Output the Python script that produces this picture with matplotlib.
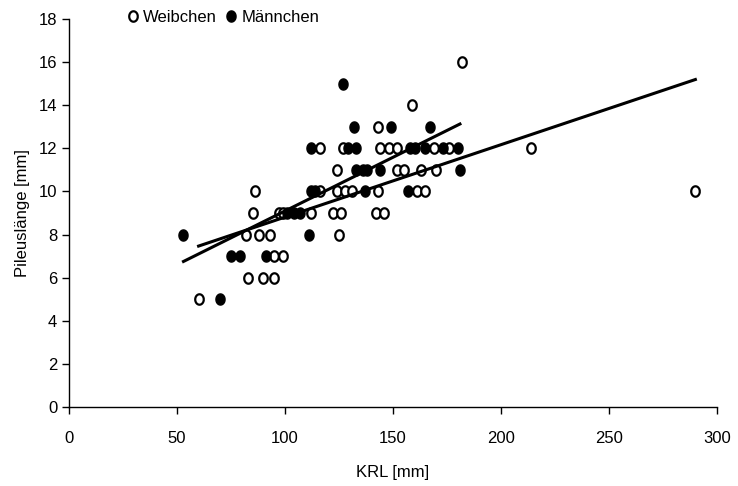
"""Pileuslänge gegen KRL, Weibchen und Männchen mit linearen Trendlinien."""

import matplotlib
import matplotlib.pyplot as plt
import numpy as np

matplotlib.use("Agg")

plt.rcParams["font.family"] = ["Liberation Sans", "DejaVu Sans"]

# Weibchen (offene Kreise)
female_krl = [60, 83, 90, 95, 95, 99, 82, 88, 93, 125,
              85, 97, 99, 112, 122, 126, 142, 146,
              86, 116, 124, 128, 131, 143, 161, 165, 290,
              124, 152, 155, 163, 170,
              116, 127, 144, 148, 152, 169, 176, 214,
              143, 159, 182]
female_pileus = [5, 6, 6, 6, 7, 7, 8, 8, 8, 8,
                 9, 9, 9, 9, 9, 9, 9, 9,
                 10, 10, 10, 10, 10, 10, 10, 10, 10,
                 11, 11, 11, 11, 11,
                 12, 12, 12, 12, 12, 12, 12, 12,
                 13, 14, 16]

# Männchen (gefüllte Kreise)
male_krl = [70, 75, 79, 91, 53, 111, 101, 104, 107,
            112, 114, 137, 157, 133, 136, 138, 144, 181,
            112, 129, 133, 158, 160, 165, 173, 180,
            132, 149, 167, 127]
male_pileus = [5, 7, 7, 7, 8, 8, 9, 9, 9,
               10, 10, 10, 10, 11, 11, 11, 11, 11,
               12, 12, 12, 12, 12, 12, 12, 12,
               13, 13, 13, 15]

x_ticks = [0, 50, 100, 150, 200, 250, 300]
y_ticks = [0, 2, 4, 6, 8, 10, 12, 14, 16, 18]

# leicht hochgestellter Kreis als Marker
t = np.linspace(0, 2 * np.pi, 60)
ellipse = np.column_stack([0.82 * np.cos(t), np.sin(t)])


def trend(x, y):
    x = np.asarray(x, dtype=float)
    slope, icpt = np.polyfit(x, np.asarray(y, dtype=float), 1)
    xs = np.array([x.min(), x.max()])
    return xs, slope * xs + icpt


fig = plt.figure(figsize=(7.38, 4.86), dpi=100)
ax = fig.add_axes([0.0935, 0.1626, 0.878, 0.7984])

ax.plot(female_krl, female_pileus, linestyle="none", marker=ellipse,
        markersize=7.5, markerfacecolor="white", markeredgecolor="black",
        markeredgewidth=1.6, label="Weibchen", zorder=3)
ax.plot(male_krl, male_pileus, linestyle="none", marker=ellipse,
        markersize=8, markerfacecolor="black", markeredgecolor="black",
        markeredgewidth=1, label="Männchen", zorder=3)

fx, fy = trend(female_krl, female_pileus)
mx, my = trend(male_krl, male_pileus)
ax.plot(fx, fy, color="black", lw=2.2, zorder=4)
ax.plot(mx, my, color="black", lw=2.2, zorder=4)

ax.set_xlim(0, 300)
ax.set_ylim(0, 18)
ax.set_xticks(x_ticks)
ax.set_yticks(y_ticks)
ax.tick_params(direction="out", length=5, width=1, labelsize=12, colors="black")
ax.tick_params(axis="x", pad=12)
for side in ("top", "right"):
    ax.spines[side].set_visible(False)
for side in ("left", "bottom"):
    ax.spines[side].set_linewidth(1)

ax.set_xlabel("KRL [mm]", fontsize=12, labelpad=14)
ax.set_ylabel("Pileuslänge [mm]", fontsize=12, labelpad=6)

ax.legend(loc="upper left", bbox_to_anchor=(0.08, 1.04), ncol=2, frameon=False,
          fontsize=12, handlelength=0.6, handletextpad=0.3, columnspacing=0.6,
          borderaxespad=0)

fig.savefig("out.png", dpi=100)
plt.close(fig)
